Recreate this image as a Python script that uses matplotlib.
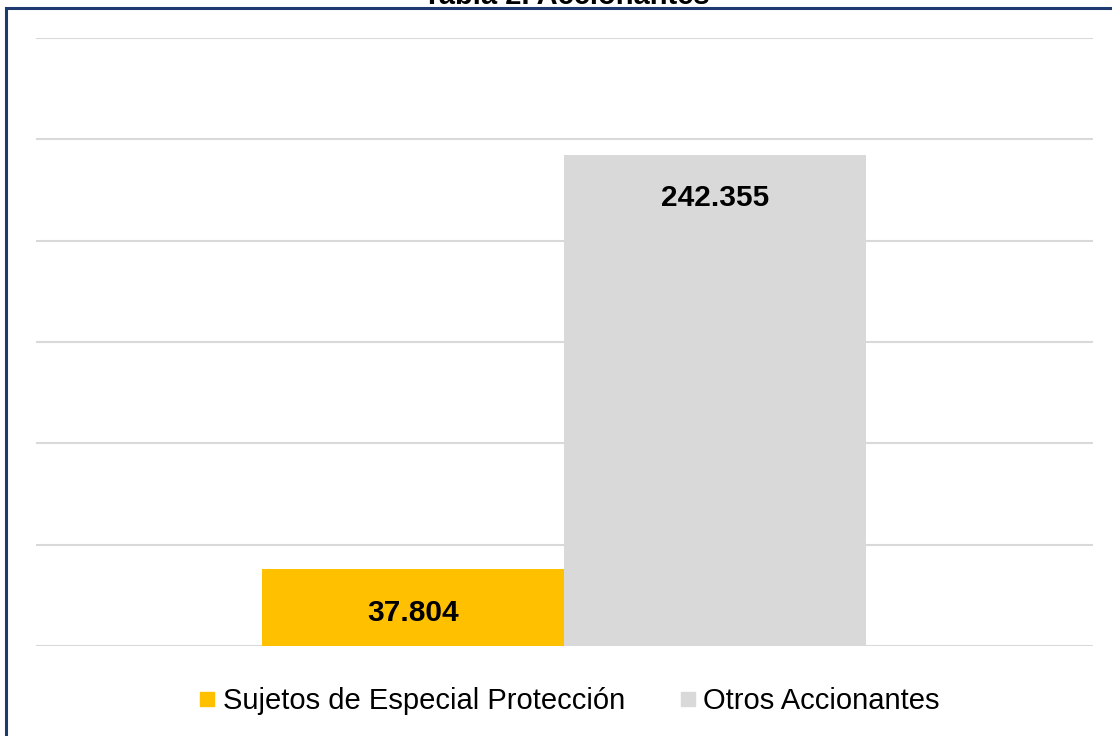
import matplotlib.pyplot as plt
from matplotlib.patches import Rectangle
from matplotlib.lines import Line2D

plt.rcParams['font.family'] = ['Liberation Sans', 'DejaVu Sans']

# data
series = ['Sujetos de Especial Protección', 'Otros Accionantes']
values = [37804, 242355]
labels = ['37.804', '242.355']
colors = ['#FFC000', '#D9D9D9']

fig = plt.figure(figsize=(11.12, 7.36), dpi=100)
ax = fig.add_axes([36 / 1112, 1 - 646 / 736, (1093 - 36) / 1112, (646 - 38) / 736])

width = 302
offsets = [262 - 36, 564 - 36]
for off, v, lbl, c in zip(offsets, values, labels, colors):
    ax.bar(off, v, width=width, align='edge', color=c, zorder=2)
    ax.text(off + width / 2, v - 21500, lbl, ha='center', va='center',
            fontsize=21.5, fontweight='bold', color='black', zorder=3)

ax.set_xlim(0, 1093 - 36)
ax.set_ylim(0, 300000)
ax.set_yticks(range(0, 300001, 50000))
ax.yaxis.grid(True, color='#D9D9D9', linewidth=1.5)
ax.set_axisbelow(True)
ax.tick_params(left=False, bottom=False, labelleft=False, labelbottom=False)
for s in ax.spines.values():
    s.set_visible(False)

handles = [Line2D([], [], marker='s', linestyle='none', markersize=10.5,
                  markerfacecolor=c, markeredgecolor=c) for c in colors]
fig.legend(handles, series, loc='center', bbox_to_anchor=(0.511, 1 - 701 / 736),
           ncol=2, frameon=False, fontsize=21, handletextpad=0.18,
           columnspacing=1.8, handlelength=0.7)

# title cut off at top and border
fig.text(566 / 1112, 1 - 3.5 / 736, 'Tabla 2. Accionantes', ha='center', va='baseline',
         fontsize=21, fontweight='bold')
fig.patches.append(Rectangle((6 / 1112, -0.1), 1.2, 1 - 8 / 736 + 0.1,
                             transform=fig.transFigure, fill=False,
                             edgecolor='#1F3A70', linewidth=2.2))

fig.savefig('out.png', dpi=100)
